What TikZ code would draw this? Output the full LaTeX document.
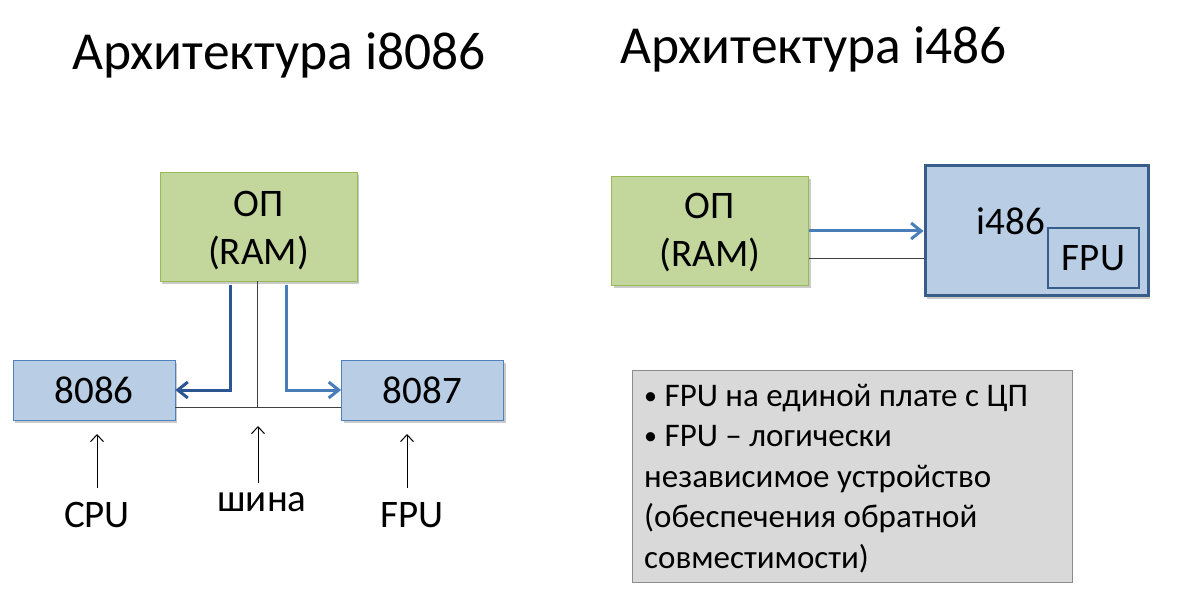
\documentclass[tikz,border=0pt]{standalone}
\usepackage{fontspec}
\setmainfont{Carlito}
\usetikzlibrary{shadows,arrows.meta}
\definecolor{gfill}{HTML}{C3D69B}
\definecolor{gdraw}{HTML}{98B954}
\definecolor{bfill}{HTML}{B9CDE5}
\definecolor{bdraw}{HTML}{4F81BD}
\definecolor{bdark}{HTML}{385D8A}
\definecolor{adark}{HTML}{2C5593}
\definecolor{alight}{HTML}{4A7EBB}
\definecolor{tfill}{HTML}{D9D9D9}
\definecolor{tdraw}{HTML}{8C8C8C}
\newcommand{\smbul}{\raisebox{2pt}{\fontsize{26}{26}\selectfont •}}
\tikzset{
  shad/.style={drop shadow={shadow xshift=2pt,shadow yshift=-3pt,opacity=0.35,fill=black!60}},
  rambox/.style={draw=gdraw,fill=gfill,line width=0.8pt,shad,minimum width=197pt,minimum height=109pt,inner sep=0pt},
  ramtxt/.style={align=center,inner sep=0pt,font=\fontsize{39}{48}\selectfont},
  cpubox/.style={draw=bdraw,fill=bfill,line width=0.8pt,shad,minimum width=162pt,minimum height=60pt,inner sep=0pt,font=\fontsize{39}{40}\selectfont},
  lbl/.style={font=\fontsize{39}{40}\selectfont,inner sep=0pt},
  ttl/.style={font=\fontsize{53.5}{60}\selectfont,inner sep=0pt,anchor=base west},
  thin/.style={draw=black!75,line width=0.9pt},
  tiny/.style={draw=black,line width=1pt,-{Straight Barb[length=7pt,width=13pt,line width=1pt]}},
  arrL/.style={draw=adark,line width=3pt,-{Straight Barb[length=10pt,width=16pt,line width=3pt]}},
  arrR/.style={draw=alight,line width=3pt,-{Straight Barb[length=10pt,width=16pt,line width=3pt]}},
}
\begin{document}
\begin{tikzpicture}[x=1pt,y=-1pt]
\useasboundingbox (0,0) rectangle (1177,609);
% titles
\node[ttl] (t1) at (72,70) {Архитектура i8086};
\node[ttl] (t2) at (620,64) {Архитектура i486};
% left diagram
\node[rambox] (ramL) at (258.5,226.5) {};
\node[ramtxt] (ramLt) at (258.5,231) {ОП\\(RAM)};
\node[cpubox] (cpu) at (94,390) {8086};
\node[cpubox] (fpu) at (422.5,390) {8087};
\coordinate (bus) at (257,407);
\draw[thin] (ramL.south -| bus) -- (bus);
\draw[thin] (cpu.east |- bus) -- (fpu.west |- bus);
\draw[arrL] ([xshift=70.5pt,yshift=-4pt]ramL.south west) |- (cpu.east);
\draw[arrR] ([xshift=126.5pt,yshift=-4pt]ramL.south west) |- (fpu.west);
% labels
\node[lbl] (lcpu) at (97,515) {CPU};
\node[lbl] (lbus) at (262,502) {шина};
\node[lbl] (lfpu) at (412,515) {FPU};
\draw[tiny] (lcpu.north -| 97,0) ++(0,-14) -- (97,434);
\draw[tiny] (lbus.north -| 258,0) ++(0,-9) -- (258,426);
\draw[tiny] (lfpu.north -| 407,0) ++(0,-14) -- (407,434);
% right diagram
\node[rambox] (ramR) at (710,230.5) {};
\node[ramtxt] (ramRt) at (710,233) {ОП\\(RAM)};
\node[draw=bdark,fill=bfill,line width=3pt,shad,minimum width=223pt,minimum height=130pt,inner sep=0pt] (i486) at (1036.5,231) {};
\node[lbl] (i486t) at (1011,221) {i486};
\node[draw=bdark,fill=bfill,line width=1.8pt,minimum width=91pt,minimum height=60pt,inner sep=0pt,font=\fontsize{39}{40}\selectfont] (fpuin) at (1093.5,258) {FPU};
\draw[arrR] (ramR.east |- 0,231) -- (i486.west |- 0,231);
\draw[thin] (ramR.east |- 0,258) -- (i486.west |- 0,258);
% text box
\node[draw=tdraw,fill=tfill,line width=1pt,minimum width=440pt,minimum height=212pt,inner sep=0pt] (note) at (852,476) {};
\node[anchor=base west,inner sep=0pt,align=left,font=\fontsize{33}{40.5}\selectfont] (notet) at (644,568)
 {\smbul{} FPU на единой плате с ЦП\\\smbul{} FPU – логически\\независимое устройство\\(обеспечения обратной\\совместимости)};
\end{tikzpicture}
\end{document}
